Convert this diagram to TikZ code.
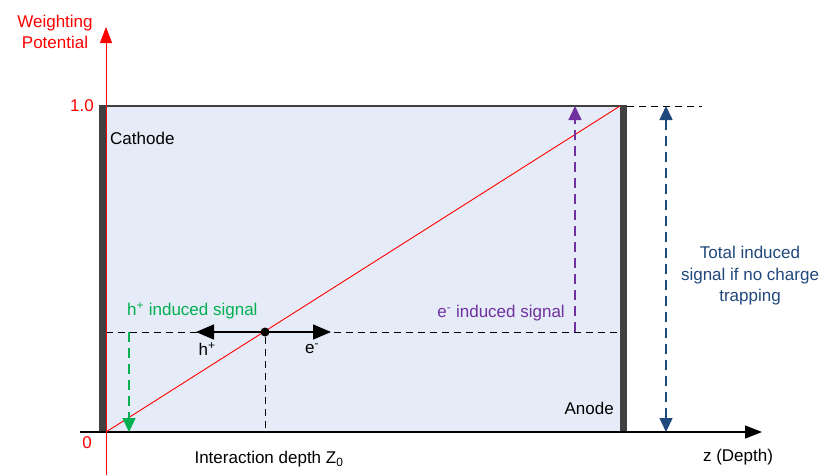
\documentclass[tikz,border=0pt]{standalone}
\usepackage{fontspec}
\setmainfont{Liberation Sans}
\usetikzlibrary{arrows.meta}
\definecolor{boxfill}{HTML}{E6ECF7}
\definecolor{bargray}{HTML}{404040}
\definecolor{sigred}{HTML}{FF0000}
\definecolor{siggreen}{HTML}{00B050}
\definecolor{sigpurple}{HTML}{7030A0}
\definecolor{signavy}{HTML}{1F487C}
\tikzset{
  lbl/.style={inner sep=0pt, font=\fontsize{17}{21.5}\selectfont},
  dsh/.style={dash pattern=on 7pt off 5pt, line width=0.9pt},
  cdsh/.style={dash pattern=on 10pt off 6pt, line width=1.6pt},
  smalltip/.style={-{Triangle[length=14pt,width=13pt]}},
  bigtip/.style={-{Triangle[length=18pt,width=15pt]}},
}
\begin{document}
\begin{tikzpicture}[x=1pt,y=-1pt]
\useasboundingbox (0,0) rectangle (826,475);
% box
\fill[boxfill] (106,106) rectangle (620,432);
\fill[bargray] (99,106) rectangle (106,432);
\fill[bargray] (620,106) rectangle (627,432);
\draw[line width=1.3pt, bargray] (99,106) -- (627,106);
% coordinates
\coordinate (orig) at (106,432);
\coordinate (ytop) at (106,27);
\coordinate (ybot) at (106,475);
\coordinate (xl) at (80,432);
\coordinate (xr) at (762,432);
\coordinate (corner) at (620,106);
\coordinate (hl) at (106,332);
\coordinate (hr) at (620,332);
\coordinate (dotbot) at (265,432);
\coordinate (htip) at (196,332);
\coordinate (etip) at (331,332);
\coordinate (gtop) at (129,332);
\coordinate (gbot) at (129,432);
\coordinate (ptop) at (575,106);
\coordinate (pbot) at (575,332);
\coordinate (ntop) at (666,106);
\coordinate (nbot) at (666,432);
\coordinate (topr) at (702,106);
\coordinate (topl) at (627,106);
% dashed guide lines
\draw[dsh, black] (hl) -- (hr);
\draw[dsh, black] (topl) -- (topr);
% axes
\draw[line width=1.3pt, black, -{Triangle[length=17pt,width=13pt]}] (xl) -- (xr);
\draw[sigred, line width=0.9pt] (ybot) -- (orig);
\draw[sigred, line width=0.9pt, -{Triangle[length=16pt,width=12pt]}] (orig) -- (ytop);
% diagonal
\draw[sigred, line width=0.9pt] (orig) -- (corner);
% interaction point
\node[circle, fill=black, inner sep=0pt, minimum size=9pt] (dot) at (265,332) {};
\draw[dsh, black] (dot) -- (dotbot);
\draw[line width=1.5pt, bigtip] (dot.center) -- (htip);
\draw[line width=1.5pt, bigtip] (dot.center) -- (etip);
% signal arrows
\draw[cdsh, siggreen, smalltip] (gtop) -- (gbot);
\draw[cdsh, sigpurple, smalltip] (pbot) -- (ptop);
\draw[cdsh, signavy, {Triangle[length=14pt,width=13pt]}-{Triangle[length=14pt,width=13pt]}] (nbot) -- (ntop);
% labels
\node[lbl, sigred, align=center] (wp) at (55,32) {Weighting\\Potential};
\node[lbl, sigred, anchor=east] (one) at (94,106) {1.0};
\node[lbl, sigred] (zero) at (87,443) {0};
\node[lbl, anchor=west] (cath) at (110,138) {Cathode};
\node[lbl, anchor=east] (anode) at (614,408) {Anode};
\node[lbl] (hp) at (207,349) {h\textsuperscript{+}};
\node[lbl] (em) at (312,349) {e\textsuperscript{-}};
\node[lbl, siggreen, anchor=west] (hsig) at (127,311) {h\textsuperscript{+} induced signal};
\node[lbl, sigpurple, anchor=east] (esig) at (565,313) {e\textsuperscript{-} induced signal};
\node[lbl, signavy, align=center] (tot) at (750,276) {Total induced\\signal if no charge\\trapping};
\node[lbl] (depth) at (269,459) {Interaction depth Z\textsubscript{0}};
\node[lbl] (zdep) at (738,457) {z (Depth)};
\end{tikzpicture}
\end{document}
